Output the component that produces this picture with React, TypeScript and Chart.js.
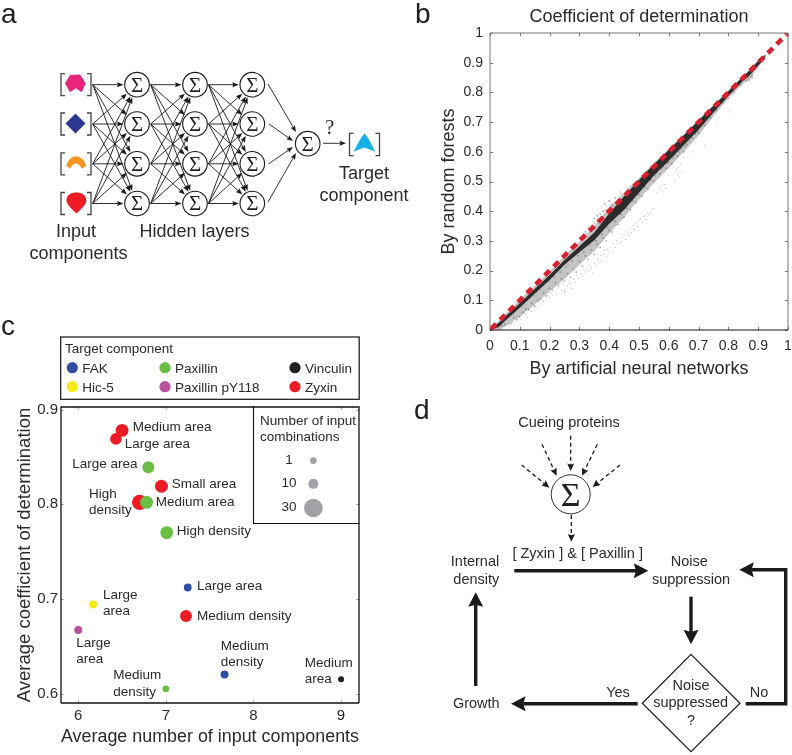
import React, { useEffect, useRef } from "react";
import { Chart, registerables } from "chart.js";

Chart.register(...registerables);

const FONT = "'Liberation Sans', Arial, sans-serif";
const TEXT = "#2b2b2b";

// ---------- Panel b data ----------
const unitTicks = [0, 0.1, 0.2, 0.3, 0.4, 0.5, 0.6, 0.7, 0.8, 0.9, 1];
const bandX = [0, 0.03, 0.05, 0.1, 0.15, 0.2, 0.25, 0.3, 0.35, 0.4, 0.45, 0.5, 0.55, 0.6, 0.65, 0.7, 0.75, 0.8, 0.85, 0.87, 0.9, 0.925];
const outerHigh = [0.005, 0.03, 0.052, 0.103, 0.15, 0.198, 0.25, 0.298, 0.35, 0.415, 0.462, 0.512, 0.562, 0.61, 0.66, 0.71, 0.758, 0.808, 0.858, 0.878, 0.91, 0.93];
const outerLow = [0, 0, 0.012, 0.045, 0.085, 0.13, 0.172, 0.22, 0.265, 0.325, 0.38, 0.44, 0.495, 0.545, 0.6, 0.655, 0.72, 0.78, 0.83, 0.843, 0.883, 0.92];
const coreHigh = [0.002, 0.024, 0.045, 0.09, 0.138, 0.185, 0.236, 0.282, 0.328, 0.392, 0.45, 0.505, 0.558, 0.606, 0.655, 0.705, 0.755, 0.804, 0.854, 0.872, 0.906, 0.927];
const coreLow = [0, 0.01, 0.03, 0.075, 0.122, 0.168, 0.22, 0.262, 0.302, 0.358, 0.405, 0.462, 0.52, 0.57, 0.622, 0.674, 0.732, 0.788, 0.84, 0.856, 0.89, 0.922];
const diagonal = [0.004, 0.996];
const sparseX = [0.03,0.04,0.05,0.06,0.065,0.075,0.08,0.09,0.095,0.105,0.11,0.12,0.125,0.13,0.14,0.145,0.15,0.16,0.165,0.17,0.18,0.185,0.19,0.2,0.205,0.21,0.22,0.225,0.23,0.24,0.245,0.25,0.26,0.265,0.27,0.275,0.28,0.285,0.29,0.3,0.305,0.31,0.315,0.32,0.33,0.335,0.34,0.345,0.35,0.355,0.36,0.365,0.37,0.375,0.38,0.385,0.39,0.395,0.4,0.405,0.41,0.415,0.42,0.425,0.43,0.44,0.445,0.45,0.455,0.46,0.465,0.47,0.475,0.48,0.485,0.49,0.495,0.5,0.505,0.51,0.515,0.52,0.525,0.53,0.535,0.54,0.545,0.55,0.56,0.57,0.575,0.58,0.585,0.59,0.6,0.62,0.625,0.63,0.633,0.636,0.64,0.645,0.65,0.68,0.72,0.76,0.805,0.81,0.33,0.36,0.345,0.38,0.39,0.405,0.42,0.375,0.4,0.435,0.46,0.47,0.48,0.49,0.51,0.53,0.2,0.24,0.26,0.17,0.11,0.15,0.08,0.28,0.31,0.35];
const sparseY = [0.003,0.006,0.012,0.018,0.012,0.028,0.02,0.03,0.045,0.036,0.052,0.055,0.042,0.07,0.062,0.085,0.075,0.078,0.095,0.088,0.098,0.112,0.105,0.11,0.125,0.118,0.128,0.118,0.142,0.135,0.155,0.13,0.148,0.165,0.156,0.14,0.172,0.16,0.185,0.175,0.19,0.182,0.205,0.195,0.2,0.218,0.21,0.192,0.225,0.215,0.238,0.228,0.25,0.232,0.255,0.268,0.245,0.272,0.265,0.28,0.262,0.29,0.278,0.3,0.29,0.295,0.312,0.322,0.305,0.33,0.32,0.34,0.328,0.352,0.338,0.36,0.348,0.368,0.375,0.362,0.382,0.385,0.372,0.395,0.39,0.4,0.408,0.41,0.462,0.472,0.482,0.468,0.49,0.478,0.52,0.505,0.54,0.525,0.548,0.515,0.56,0.535,0.58,0.6,0.62,0.69,0.735,0.725,0.352,0.375,0.365,0.4,0.418,0.432,0.445,0.415,0.435,0.468,0.478,0.485,0.492,0.5,0.52,0.538,0.165,0.2,0.222,0.135,0.078,0.115,0.05,0.255,0.29,0.31];
const haloX = [0.04,0.05,0.07,0.08,0.09,0.1,0.11,0.12,0.13,0.14,0.15,0.16,0.17,0.18,0.19,0.2,0.21,0.22,0.23,0.24,0.25,0.26,0.27,0.28,0.29,0.3,0.31,0.32,0.33,0.34,0.35,0.36,0.37,0.38,0.39,0.4,0.41,0.42,0.43,0.44,0.45,0.46,0.47,0.48,0.49,0.5,0.51,0.52,0.53,0.54,0.55,0.56,0.57,0.58,0.59,0.6,0.61,0.62,0.63,0.64,0.65,0.66,0.67,0.68,0.69,0.7,0.72,0.74,0.76,0.78,0.8,0.82,0.84,0.86,0.88,0.33,0.34,0.35,0.36,0.37,0.38,0.385,0.39,0.4,0.41,0.42,0.43,0.44,0.36,0.37,0.35,0.32,0.3,0.115,0.135,0.155,0.175,0.195,0.215,0.235,0.255,0.275,0.295,0.315,0.335,0.355,0.375,0.395,0.415,0.435,0.455,0.475,0.495,0.515,0.535,0.555,0.575,0.595,0.615,0.635,0.655,0.675,0.695,0.865,0.875,0.88,0.87];
const haloY = [0.015,0.02,0.022,0.04,0.035,0.045,0.06,0.07,0.068,0.09,0.08,0.1,0.105,0.125,0.115,0.14,0.135,0.158,0.15,0.172,0.165,0.19,0.178,0.205,0.195,0.23,0.215,0.25,0.238,0.27,0.255,0.29,0.278,0.31,0.3,0.335,0.33,0.365,0.355,0.39,0.38,0.41,0.405,0.435,0.43,0.455,0.45,0.48,0.475,0.505,0.5,0.53,0.525,0.55,0.545,0.565,0.56,0.59,0.585,0.61,0.6,0.625,0.635,0.645,0.66,0.665,0.69,0.715,0.74,0.765,0.78,0.8,0.825,0.84,0.85,0.345,0.35,0.36,0.365,0.39,0.4,0.425,0.405,0.435,0.42,0.445,0.44,0.46,0.385,0.375,0.375,0.33,0.31,0.098,0.112,0.128,0.15,0.165,0.178,0.195,0.212,0.232,0.25,0.262,0.285,0.3,0.322,0.345,0.37,0.392,0.412,0.448,0.46,0.485,0.51,0.52,0.542,0.562,0.58,0.6,0.618,0.652,0.67,0.85,0.852,0.858,0.842];

// ---------- Panel c data ----------
const xTicksC = [6, 7, 8, 9];
const yTicksC = [0.6, 0.7, 0.8, 0.9];
const zyxinX = [6.5, 6.43, 6.95, 6.7, 7.23];
const zyxinY = [0.878, 0.869, 0.819, 0.802, 0.682];
const zyxinR = [6.4, 5.8, 6.5, 7.6, 6];
const paxillinX = [6.8, 6.78, 7.01, 7.0];
const paxillinY = [0.839, 0.802, 0.77, 0.605];
const paxillinR = [6, 6.5, 6.4, 3.4];
const fakX = [7.25, 7.67];
const fakY = [0.712, 0.62];
const fakR = [3.9, 4];
const hic5X = [6.17];
const hic5Y = [0.694];
const hic5R = [4];
const py118X = [6.0];
const py118Y = [0.667];
const py118R = [4];
const vinculinX = [9.0];
const vinculinY = [0.615];
const vinculinR = [3];
const sizeKeyX = [8.684, 8.684, 8.684];
const sizeKeyY = [0.846, 0.8215, 0.796];
const sizeKeyR = [3.3, 5, 9.3];

const legendItems: [string, string, number, number][] = [
  ["FAK", "#2e4fa3", 72.3, 367.7],
  ["Hic-5", "#f6eb16", 72.3, 386.7],
  ["Paxillin", "#6abd45", 165, 367.7],
  ["Paxillin pY118", "#b9529f", 165, 386.7],
  ["Vinculin", "#231f20", 295, 367.7],
  ["Zyxin", "#ed1c24", 295, 386.7],
];
const pointLabels: [string, number, number][] = [
  ["Medium area", 132.7, 431], ["Large area", 124.7, 448], ["Large area", 72.3, 468.3],
  ["Small area", 171.7, 488.3], ["High", 89, 498.3], ["density", 89, 514.3],
  ["Medium area", 155.7, 506], ["High density", 176.7, 535], ["Large area", 197, 590],
  ["Large", 103, 599], ["area", 103, 615], ["Medium density", 197, 620],
  ["Large", 76.3, 647.3], ["area", 76.3, 663.3], ["Medium", 113.3, 679.3], ["density", 113.3, 695.7],
  ["Medium", 220.7, 650], ["density", 220.7, 666], ["Medium", 304.7, 667.3], ["area", 304.7, 683.3],
];

const zip = (xs: number[], ys: number[]) => xs.map((x, i) => ({ x, y: ys[i] }));
const zip3 = (xs: number[], ys: number[], rs: number[]) => xs.map((x, i) => ({ x, y: ys[i], r: rs[i] }));

const frameTicks = {
  id: "frameTicks",
  beforeDatasetsDraw(chart: any, _a: any, o: any) {
    const { ctx, chartArea: c, scales } = chart;
    ctx.save();
    ctx.lineWidth = 1;
    ctx.strokeStyle = o.tickColor;
    const len = o.tickLength;
    ctx.beginPath();
    scales.x.ticks.forEach((t: any) => {
      const p = Math.round(scales.x.getPixelForValue(t.value)) + 0.5;
      ctx.moveTo(p, c.top); ctx.lineTo(p, c.top + len);
      ctx.moveTo(p, c.bottom); ctx.lineTo(p, c.bottom - len);
    });
    scales.y.ticks.forEach((t: any) => {
      const p = Math.round(scales.y.getPixelForValue(t.value)) + 0.5;
      ctx.moveTo(c.left, p); ctx.lineTo(c.left + len, p);
      ctx.moveTo(c.right, p); ctx.lineTo(c.right - len, p);
    });
    ctx.stroke();
    ctx.lineWidth = o.frameWidth;
    ctx.strokeStyle = o.frameColor;
    ctx.beginPath();
    ctx.moveTo(c.left, c.bottom); ctx.lineTo(c.left, c.top); ctx.lineTo(c.right, c.top); ctx.lineTo(c.right, c.bottom);
    ctx.stroke();
    ctx.strokeStyle = o.baseColor;
    ctx.beginPath();
    ctx.moveTo(c.left, c.bottom); ctx.lineTo(c.right, c.bottom);
    ctx.stroke();
    ctx.restore();
  },
};

function ScatterPanel() {
  const ref = useRef<HTMLCanvasElement>(null);
  useEffect(() => {
    const chart = new Chart(ref.current!, {
      type: "scatter",
      plugins: [frameTicks],
      data: {
        datasets: [
          { type: "line", label: "Diagonal", data: zip(diagonal, diagonal), borderColor: "#d8202f", borderWidth: 4.6, borderDash: [7, 5.6], pointRadius: 0, order: 0 },
          { type: "line", label: "coreHigh", data: zip(bandX, coreHigh), borderWidth: 0, pointRadius: 0, fill: "+1", backgroundColor: "rgba(20,20,20,0.86)", order: 1 },
          { type: "line", label: "coreLow", data: zip(bandX, coreLow), borderWidth: 0, pointRadius: 0, order: 1 },
          { label: "Halo", data: zip(haloX, haloY), pointRadius: 0.9, borderWidth: 0, backgroundColor: "rgba(50,50,50,0.38)", order: 2 },
          { type: "line", label: "outerHigh", data: zip(bandX, outerHigh), borderWidth: 0, pointRadius: 0, fill: "+1", backgroundColor: "rgba(60,60,60,0.3)", order: 3 },
          { type: "line", label: "outerLow", data: zip(bandX, outerLow), borderWidth: 0, pointRadius: 0, order: 3 },
          { label: "Sparse", data: zip(sparseX, sparseY), pointRadius: 0.55, borderWidth: 0, backgroundColor: "rgba(70,70,70,0.42)", order: 4 },
        ],
      } as any,
      options: {
        animation: false,
        responsive: false,
        layout: { padding: { right: 4 } },
        plugins: {
          legend: { display: false },
          tooltip: { enabled: false },
          title: { display: true, text: "Coefficient of determination", fullSize: false, color: TEXT, font: { family: FONT, size: 18, weight: "normal" }, padding: { top: 6.4, bottom: 5 } },
          frameTicks: { tickColor: "#777", tickLength: 3, frameWidth: 1, frameColor: "#777", baseColor: "#111" },
        } as any,
        scales: {
          x: {
            type: "linear", min: 0, max: 1,
            afterBuildTicks: (s: any) => { s.ticks = unitTicks.map((value) => ({ value })); },
            afterFit: (s: any) => { s.height = 55; s.paddingRight = 0; s.paddingLeft = 0; },
            grid: { display: false, drawTicks: false }, border: { display: false },
            ticks: { color: TEXT, font: { family: FONT, size: 14 }, padding: 8, maxRotation: 0, autoSkip: false, callback: (v: any) => String(v) },
            title: { display: true, text: "By artificial neural networks", color: TEXT, font: { family: FONT, size: 18 }, padding: { top: 0, bottom: 5 } },
          },
          y: {
            type: "linear", min: 0, max: 1,
            afterBuildTicks: (s: any) => { s.ticks = unitTicks.map((value) => ({ value })); },
            afterFit: (s: any) => { s.width = 60; s.paddingTop = 0; s.paddingBottom = 0; },
            grid: { display: false, drawTicks: false }, border: { display: false },
            ticks: { color: TEXT, font: { family: FONT, size: 14 }, padding: 7, autoSkip: false, callback: (v: any) => String(v) },
            title: { display: true, text: "By random forests", color: TEXT, font: { family: FONT, size: 18 }, padding: { top: 8, bottom: 0 } },
          },
        },
      } as any,
    });
    return () => chart.destroy();
  }, []);
  return <canvas ref={ref} width={362} height={385} style={{ position: "absolute", left: 430, top: 0 }} />;
}

function BubblePanel() {
  const ref = useRef<HTMLCanvasElement>(null);
  useEffect(() => {
    const gray = "#a0a2a5";
    const chart = new Chart(ref.current!, {
      type: "bubble",
      plugins: [frameTicks],
      data: {
        datasets: [
          { label: "Size key", data: zip3(sizeKeyX, sizeKeyY, sizeKeyR), backgroundColor: gray, borderWidth: 0 },
          { label: "Paxillin", data: zip3(paxillinX, paxillinY, paxillinR), backgroundColor: "#6abd45", borderWidth: 0 },
          { label: "Zyxin", data: zip3(zyxinX, zyxinY, zyxinR), backgroundColor: "#ed1c24", borderWidth: 0 },
          { label: "FAK", data: zip3(fakX, fakY, fakR), backgroundColor: "#2e4fa3", borderWidth: 0 },
          { label: "Hic-5", data: zip3(hic5X, hic5Y, hic5R), backgroundColor: "#f6eb16", borderWidth: 0 },
          { label: "Paxillin pY118", data: zip3(py118X, py118Y, py118R), backgroundColor: "#b9529f", borderWidth: 0 },
          { label: "Vinculin", data: zip3(vinculinX, vinculinY, vinculinR), backgroundColor: "#231f20", borderWidth: 0 },
        ],
      },
      options: {
        animation: false,
        responsive: false,
        layout: { padding: { top: 11, right: 21 } },
        plugins: {
          legend: { display: false },
          tooltip: { enabled: false },
          frameTicks: { tickColor: "#999", tickLength: 2.5, frameWidth: 1.3, frameColor: "#111", baseColor: "#111" },
        } as any,
        scales: {
          x: {
            type: "linear", min: 5.803, max: 9.205,
            afterBuildTicks: (s: any) => { s.ticks = xTicksC.map((value) => ({ value })); },
            afterFit: (s: any) => { s.height = 52; },
            grid: { display: false, drawTicks: false }, border: { display: false },
            ticks: { color: TEXT, font: { family: FONT, size: 15 }, padding: 4, maxRotation: 0, autoSkip: false, callback: (v: any) => String(v) },
            title: { display: true, text: "Average number of input components", color: TEXT, font: { family: FONT, size: 18.9 }, padding: { top: 0, bottom: 7 } },
          },
          y: {
            type: "linear", min: 0.59, max: 0.9027,
            afterBuildTicks: (s: any) => { s.ticks = yTicksC.map((value) => ({ value })); },
            afterFit: (s: any) => { s.width = 61; },
            grid: { display: false, drawTicks: false }, border: { display: false },
            ticks: { color: TEXT, font: { family: FONT, size: 15 }, padding: 3, autoSkip: false, callback: (v: any) => Number(v).toFixed(1) },
            title: { display: true, text: "Average coefficient of determination", color: TEXT, font: { family: FONT, size: 18.5 }, padding: { top: 14, bottom: 0 } },
          },
        },
      } as any,
    });
    return () => chart.destroy();
  }, []);
  return <canvas ref={ref} width={380} height={360} style={{ position: "absolute", left: 0, top: 395 }} />;
}

function Arrow({ x1, y1, x2, y2, w = 0.9, hl = 6.5, hw = 5, dash, color = "#1a1a1a" }: any) {
  const a = Math.atan2(y2 - y1, x2 - x1);
  const bx = x2 - Math.cos(a) * hl * 0.85;
  const by = y2 - Math.sin(a) * hl * 0.85;
  const c = Math.cos(a), s = Math.sin(a);
  const p1 = [x2 - c * hl - s * hw / 2, y2 - s * hl + c * hw / 2];
  const p2 = [x2 - c * hl + s * hw / 2, y2 - s * hl - c * hw / 2];
  return (
    <g>
      <line x1={x1} y1={y1} x2={bx} y2={by} stroke={color} strokeWidth={w} strokeDasharray={dash} />
      <polygon points={`${x2},${y2} ${p1[0]},${p1[1]} ${bx},${by} ${p2[0]},${p2[1]}`} fill={color} />
    </g>
  );
}

function Sigma({ cx, cy, r = 12.3, size = 21, sw = 1.1 }: any) {
  return (
    <g>
      <circle cx={cx} cy={cy} r={r} fill="#fff" stroke="#1a1a1a" strokeWidth={sw} />
      <text x={cx} y={cy + size * 0.33} textAnchor="middle" fontFamily="'Liberation Serif', serif" fontSize={size} fill="#222">Σ</text>
    </g>
  );
}

function Bracket({ l, r, t, b }: any) {
  const st = { fill: "none", stroke: "#444", strokeWidth: 1.3 };
  return (
    <g>
      <path d={`M${l + 4},${t} H${l} V${b} H${l + 4}`} {...st} />
      <path d={`M${r - 4},${t} H${r} V${b} H${r - 4}`} {...st} />
    </g>
  );
}

const rowsA = [84.7, 124, 163.8, 203.5];
const colsA = [137, 195, 252.3];

function PanelA() {
  const arrows: any[] = [];
  const fromXs = [92.7, 150.7, 208.5];
  colsA.forEach((cx, ci) => {
    rowsA.forEach((ys) => {
      rowsA.forEach((yt) => {
        const dx = cx - fromXs[ci], dy = yt - ys, d = Math.hypot(dx, dy);
        arrows.push(
          <Arrow key={`${ci}-${ys}-${yt}`} x1={fromXs[ci]} y1={ys} x2={cx - (dx / d) * 13.5} y2={yt - (dy / d) * 13.5} />
        );
      });
    });
  });
  return (
    <g>
      {arrows}
      {colsA.map((cx) => rowsA.map((cy) => <Sigma key={`${cx}-${cy}`} cx={cx} cy={cy} />))}
      <Arrow x1={268} y1={84} x2={296} y2={132} />
      <Arrow x1={269} y1={124} x2={293} y2={141} />
      <Arrow x1={268.5} y1={164} x2={293} y2={147} />
      <Arrow x1={268} y1={202} x2={296} y2={153} />
      <Sigma cx={307.7} cy={143.7} />
      <Arrow x1={323} y1={143.3} x2={346} y2={143.3} />
      <text x={329.7} y={134} textAnchor="middle" fontFamily="'Liberation Serif', serif" fontSize={20} fill="#222">?</text>
      {rowsA.map((y) => <Bracket key={y} l={61} r={91} t={y - 11} b={y + 11} />)}
      <Bracket l={349.5} r={379.5} t={133.3} b={155.7} />
      <polygon points="65,83.3 70,75 80,74.6 85.7,83.3 81.7,92.3 75.7,88.3 70,92.3" fill="#e9257b" />
      <polygon points="65.5,123.5 75.5,113.5 85.5,123.5 75.5,133.5" fill="#2b3990" />
      <path d="M66.5,166 C68,159 72,156.5 76,156.5 C80.5,156.5 84,159 86,166 L82,168.5 C80,165 78,163.5 76,163.5 C74,163.5 72,165 70,168.5 Z" fill="#f7941d" />
      <path d="M66.5,200 C66.5,195 71,192.5 76.3,192.5 C81.5,192.5 86.3,195 86.3,200.5 C86.3,205 81,209 76.5,213.5 C72,209 66.5,205 66.5,200 Z" fill="#ed1c24" />
      <path d="M364.5,133.5 C368,137 372,145 375,151.5 L364.5,147.5 L354,151.5 C357,145 361,137 364.5,133.5 Z" fill="#14b1e7" />
      <g fontFamily={FONT} fontSize={18} fill={TEXT} textAnchor="middle">
        <text x={76} y={237}>Input</text>
        <text x={78.5} y={259}>components</text>
        <text x={194.5} y={237}>Hidden layers</text>
        <text x={364} y={179.3}>Target</text>
        <text x={364} y={201}>component</text>
      </g>
    </g>
  );
}

function PanelD() {
  const sx = (v: number) => 400 + v / 3;
  const sy = (v: number) => 395 + v / 3;
  const dashed = [[512, 122, 512, 228], [426, 148, 470, 242], [592, 148, 546, 242], [365, 210, 448, 278], [660, 210, 578, 276], [514, 360, 514, 440]];
  const thick = { w: 3.4, hl: 14.5, hw: 15 };
  const lab = (s: string, x: number, y: number, anchor = "middle") => (
    <text key={s + x + y} x={x} y={y} textAnchor={anchor as any}>{s}</text>
  );
  return (
    <g>
      {dashed.map((d, i) => (
        <Arrow key={i} x1={sx(d[0])} y1={sy(d[1])} x2={sx(d[2])} y2={sy(d[3])} w={1.3} hl={7.5} hw={7} dash="4 3" />
      ))}
      <Sigma cx={570.7} cy={494.3} r={19.5} size={34} sw={0.9} />
      <g fontFamily={FONT} fontSize={14.5} fill={TEXT}>
        {lab("Cueing proteins", 569, 427.3)}
        {lab("[ Zyxin ] & [ Paxillin ]", 577.7, 558.3)}
        {lab("Internal", 475, 566)}
        {lab("density", 476.3, 583.7)}
        {lab("Noise", 689.3, 566)}
        {lab("suppression", 691, 583.7)}
        {lab("Noise", 691, 690)}
        {lab("suppressed", 690.7, 707.3)}
        {lab("?", 691, 725)}
        {lab("Yes", 618, 696.7)}
        {lab("No", 759, 696.7)}
        {lab("Growth", 476.3, 708.3)}
      </g>
      <Arrow x1={514.3} y1={570.7} x2={648.3} y2={570.7} {...thick} />
      <Arrow x1={691} y1={596.7} x2={691} y2={644.3} {...thick} />
      <Arrow x1={637.7} y1={703.7} x2={511} y2={703.7} {...thick} />
      <Arrow x1={475.7} y1={686} x2={475.7} y2={592.3} {...thick} />
      <polyline points="745.7,703.7 785.7,703.7 785.7,569.7 750,569.7" fill="none" stroke="#1a1a1a" strokeWidth={3.4} />
      <Arrow x1={752} y1={569.7} x2={739.3} y2={569.7} {...thick} />
      <polygon points="691,654.3 740,703.3 691,751.7 642.3,703.3" fill="none" stroke="#1a1a1a" strokeWidth={1.2} />
    </g>
  );
}

function PanelCOverlay() {
  return (
    <g>
      <rect x={60.7} y={337} width={298.5} height={62.3} fill="none" stroke="#111" strokeWidth={1.2} />
      <polyline points="253.5,406 253.5,523.5 359,523.5" fill="none" stroke="#111" strokeWidth={1.1} />
      <g fontFamily={FONT} fontSize={13.5} fill={TEXT}>
        <text x={65} y={353.3}>Target component</text>
        {legendItems.map(([name, color, x, y]) => (
          <g key={name}>
            <circle cx={x} cy={y} r={5.6} fill={color} />
            <text x={x + 10} y={y + 5}>{name}</text>
          </g>
        ))}
        {pointLabels.map(([t, x, y], i) => <text key={i} x={x} y={y}>{t}</text>)}
        <text x={260} y={424.7}>Number of input</text>
        <text x={260} y={441}>combinations</text>
        <text x={289} y={463.7} textAnchor="middle">1</text>
        <text x={289} y={487.3} textAnchor="middle">10</text>
        <text x={289} y={511.3} textAnchor="middle">30</text>
      </g>
    </g>
  );
}

export default function App() {
  useEffect(() => { document.body.style.margin = "0"; }, []);
  return (
    <div style={{ position: "relative", width: 792, height: 755, background: "#fff", overflow: "hidden" }}>
      <ScatterPanel />
      <BubblePanel />
      <svg width={792} height={755} style={{ position: "absolute", left: 0, top: 0, pointerEvents: "none" }}>
        <g fontFamily={FONT} fontSize={28} fill="#222">
          <text x={1} y={23}>a</text>
          <text x={415} y={23}>b</text>
          <text x={1} y={335}>c</text>
          <text x={414} y={419}>d</text>
        </g>
        <PanelA />
        <PanelCOverlay />
        <PanelD />
      </svg>
    </div>
  );
}
